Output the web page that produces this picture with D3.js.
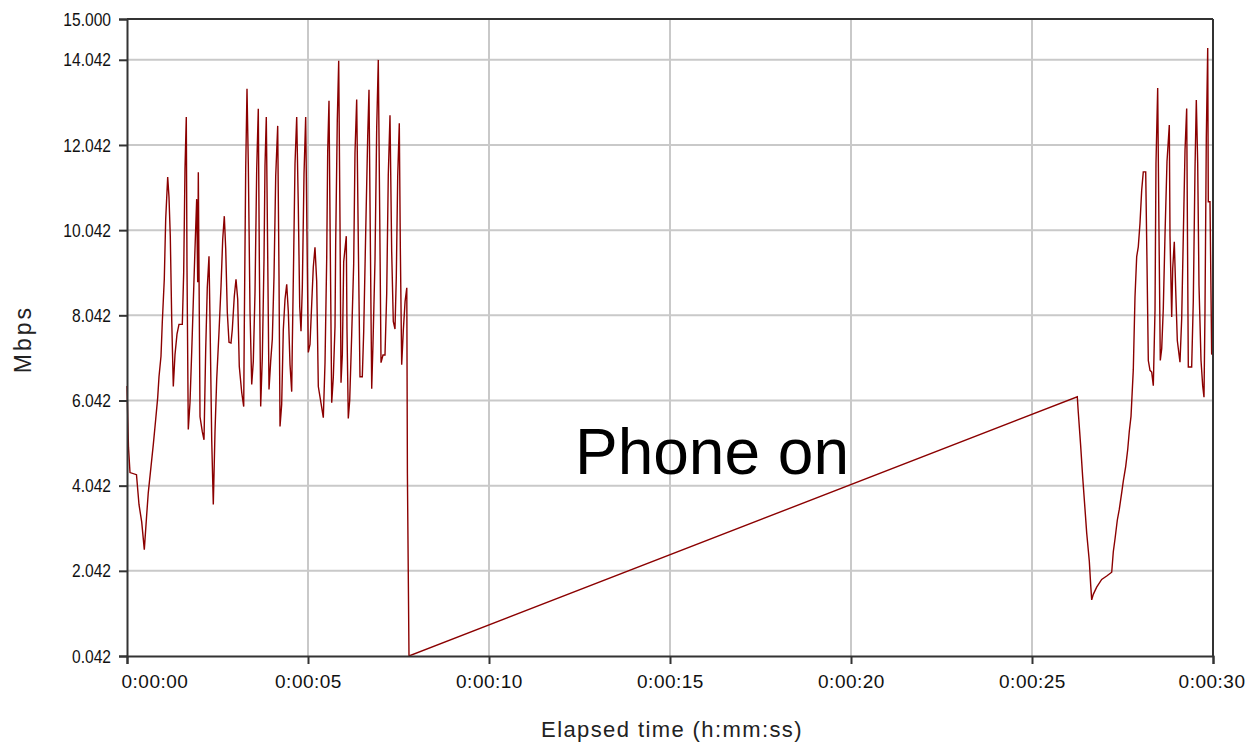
<!DOCTYPE html>
<html>
<head>
<meta charset="utf-8">
<script src="https://cdn.jsdelivr.net/npm/d3@7/dist/d3.min.js"></script>
<style>
  html, body { margin: 0; padding: 0; background: #ffffff; }
  svg { display: block; }
  .tick text { font-family: "Liberation Sans", Arial, sans-serif; fill: #111; }
</style>
</head>
<body>
<svg id="chart" width="1247" height="746"></svg>
<script>
// ---- data (seconds, Mbps) ----
const times = [
  0.000,0.014,0.041,0.083,0.262,0.331,0.406,0.478,0.544,0.588,0.663,0.727,0.793,0.848,0.884,0.939,0.975,
  1.030,1.069,1.124,1.160,1.196,1.235,1.279,1.326,1.381,1.436,1.528,1.566,1.602,1.638,1.657,1.693,1.740,
  1.787,1.831,1.878,1.925,1.953,1.970,2.017,2.080,2.127,2.174,2.218,2.265,2.293,2.340,2.384,2.431,2.478,
  2.541,2.597,2.644,2.688,2.727,2.771,2.818,2.873,2.909,2.964,3.011,3.058,3.102,3.169,3.224,3.240,3.279,
  3.315,3.351,3.398,3.445,3.489,3.536,3.583,3.627,3.655,3.693,3.738,3.785,3.812,3.848,3.887,3.923,3.969,
  4.014,4.061,4.108,4.163,4.199,4.227,4.273,4.318,4.365,4.412,4.456,4.503,4.550,4.566,4.605,4.641,4.688,
  4.732,4.771,4.807,4.843,4.890,4.936,4.972,5.008,5.055,5.102,5.146,5.193,5.240,5.285,5.378,5.423,5.470,
  5.517,5.544,5.580,5.616,5.655,5.699,5.746,5.765,5.809,5.848,5.884,5.912,5.948,5.986,6.058,6.077,6.113,
  6.152,6.207,6.262,6.298,6.345,6.389,6.436,6.500,6.539,6.594,6.649,6.685,6.721,6.760,6.796,6.851,6.898,
  6.942,6.981,7.017,7.072,7.127,7.174,7.218,7.265,7.312,7.356,7.403,7.439,7.478,7.522,7.550,7.588,7.635,
  7.682,7.729,7.746,7.790,
  26.251,26.279,26.345,26.401,26.464,26.511,26.583,26.622,26.649,26.693,26.787,26.925,27.064,27.202,
  27.246,27.293,27.356,27.412,27.478,27.522,27.588,27.644,27.688,27.735,27.798,27.845,27.892,27.936,
  27.983,28.030,28.074,28.141,28.177,28.213,28.260,28.306,28.351,28.398,28.425,28.472,28.508,28.544,
  28.583,28.627,28.674,28.729,28.793,28.812,28.859,28.887,28.931,28.970,29.014,29.088,29.135,29.180,
  29.227,29.273,29.318,29.411,29.456,29.503,29.539,29.577,29.613,29.669,29.715,29.751,29.779,29.815,
  29.854,29.870,29.917,29.963,30.000
];
const mbps = [
  6.38,5.88,4.94,4.35,4.30,3.60,3.19,2.54,3.36,3.88,4.49,5.01,5.60,6.11,6.60,7.08,7.88,
  8.89,10.30,11.29,10.82,9.90,7.95,6.37,7.12,7.60,7.83,7.83,9.05,11.48,12.70,9.20,5.36,5.99,
  7.17,8.35,9.60,10.77,8.82,11.40,5.66,5.31,5.12,7.24,8.70,9.43,7.95,5.12,3.60,5.31,6.54,
  7.64,8.72,9.83,10.37,9.60,8.11,7.41,7.39,7.71,8.49,8.89,8.42,6.84,6.23,5.90,7.76,11.48,
  13.36,11.60,8.13,6.42,6.96,8.58,11.48,12.89,9.40,5.90,7.05,9.36,11.55,12.70,9.43,6.30,6.96,
  7.48,8.96,11.31,12.49,8.96,5.43,5.95,7.71,8.42,8.77,8.13,6.89,6.25,7.31,9.48,11.60,12.70,
  10.60,8.25,7.67,8.70,11.36,12.70,9.90,7.17,7.36,8.30,9.17,9.64,8.84,6.37,5.88,5.64,6.93,
  9.40,11.88,13.08,9.55,5.99,6.58,7.78,9.76,12.61,14.02,10.23,6.46,7.11,9.30,9.90,7.72,5.62,
  6.04,7.58,9.25,11.86,13.11,9.81,6.60,6.60,7.67,9.99,12.23,13.34,9.90,6.32,7.39,9.34,12.46,
  14.04,10.41,6.93,7.11,7.11,8.55,11.34,12.74,9.53,7.90,7.72,8.93,11.30,12.55,9.67,6.88,7.72,
  8.37,8.69,4.32,0.042,
  6.13,5.76,4.97,4.23,3.49,2.93,2.27,1.70,1.36,1.49,1.66,1.84,1.92,2.01,
  2.49,2.79,3.23,3.49,3.88,4.15,4.49,4.89,5.32,5.67,6.76,8.47,9.42,9.65,
  10.20,10.98,11.41,11.41,9.26,6.98,6.75,6.71,6.39,8.16,11.61,13.38,10.00,6.98,
  7.26,8.20,9.92,11.65,12.51,9.92,8.00,9.14,9.77,8.63,7.45,6.94,7.96,9.92,
  11.92,12.90,6.83,6.83,8.39,11.49,13.10,11.61,8.75,6.98,6.39,6.12,8.16,12.20,
  14.32,10.71,10.71,7.14,7.10
];
const yTicks = [0.042, 2.042, 4.042, 6.042, 8.042, 10.042, 12.042, 14.042, 15.000];
const xTicks = [0, 5, 10, 15, 20, 25, 30];
const xTickLabels = ["0:00:00", "0:00:05", "0:00:10", "0:00:15", "0:00:20", "0:00:25", "0:00:30"];
const annotation = "Phone on";
const annotationAt = [16.16, 4.32]; // seconds, Mbps (text centre / baseline)

// ---- drawing ----
const svg = d3.select("#chart");
const W = 1247, H = 746;
const m = { left: 127, right: 34, top: 19, bottom: 90 };
const x = d3.scaleLinear().domain([0, 30]).range([m.left, W - m.right]);
const y = d3.scaleLinear().domain([0.042, 15]).range([H - m.bottom, m.top]);

svg.append("rect").attr("width", W).attr("height", H).attr("fill", "#fff");

// grid
const grid = svg.append("g");
grid.selectAll("line.gy").data(yTicks.slice(1, -1)).enter().append("line")
  .attr("x1", x(0)).attr("x2", x(30))
  .attr("y1", d => y(d)).attr("y2", d => y(d))
  .attr("stroke", "#c9c9c9").attr("stroke-width", 2);
grid.selectAll("line.gx").data(xTicks.slice(1, -1)).enter().append("line")
  .attr("x1", d => x(d)).attr("x2", d => x(d))
  .attr("y1", y(0.042)).attr("y2", y(15))
  .attr("stroke", "#c9c9c9").attr("stroke-width", 2);

// annotation
svg.append("text")
  .attr("x", x(annotationAt[0])).attr("y", y(annotationAt[1]))
  .attr("text-anchor", "middle")
  .attr("font-family", "'Liberation Sans', Arial, Helvetica, sans-serif")
  .attr("font-size", 64)
  .attr("fill", "#000")
  .text(annotation);

// series
const pts = times.map((t, i) => [t, mbps[i]]);
svg.append("path")
  .datum(pts)
  .attr("fill", "none")
  .attr("stroke", "#8b0000")
  .attr("stroke-width", 1.4)
  .attr("stroke-linejoin", "miter")
  .attr("d", d3.line().x(d => x(d[0])).y(d => y(d[1])));

// frame top/right
svg.append("line").attr("x1", x(0)).attr("x2", x(30)).attr("y1", y(15)).attr("y2", y(15))
  .attr("stroke", "#333").attr("stroke-width", 2);
svg.append("line").attr("x1", x(30)).attr("x2", x(30)).attr("y1", y(15)).attr("y2", y(0.042))
  .attr("stroke", "#333").attr("stroke-width", 2);

// axes
const yAxis = svg.append("g")
  .attr("transform", `translate(${x(0)},0)`)
  .call(d3.axisLeft(y).tickValues(yTicks).tickFormat(d3.format(".3f")).tickSize(8).tickPadding(8));
const xAxis = svg.append("g")
  .attr("transform", `translate(0,${y(0.042)})`)
  .call(d3.axisBottom(x).tickValues(xTicks).tickFormat((d, i) => xTickLabels[i]).tickSize(8).tickPadding(8));

[yAxis, xAxis].forEach(g => {
  g.select(".domain").attr("stroke", "#333").attr("stroke-width", 2);
  g.selectAll(".tick line").attr("stroke", "#333").attr("stroke-width", 2);
  g.selectAll(".tick text").attr("font-size", 19).attr("fill", "#111");
});
// narrow, tall tick digits on the value axis
yAxis.selectAll(".tick text").each(function () {
  const w = this.getComputedTextLength();
  d3.select(this).attr("textLength", (w * 0.82).toFixed(1)).attr("lengthAdjust", "spacingAndGlyphs");
});
xAxis.selectAll(".tick text").attr("letter-spacing", "0.5px").attr("dy", "0.85em");
xAxis.selectAll(".tick text").filter((d, i) => i === 0).attr("text-anchor", "start").attr("dx", -6);
xAxis.selectAll(".tick text").filter((d, i) => i === xTicks.length - 1).attr("text-anchor", "end").attr("dx", 32);

// axis titles
svg.append("text")
  .attr("x", 672).attr("y", 737)
  .attr("text-anchor", "middle")
  .attr("font-family", "'Liberation Sans', Arial, sans-serif")
  .attr("font-size", 22).attr("letter-spacing", "1.4px").attr("fill", "#222")
  .text("Elapsed time (h:mm:ss)");
svg.append("text")
  .attr("transform", "translate(31,339) rotate(-90)")
  .attr("text-anchor", "middle")
  .attr("font-family", "'Liberation Sans', Arial, sans-serif")
  .attr("font-size", 23).attr("letter-spacing", "3px").attr("fill", "#222")
  .text("Mbps");
</script>
</body>
</html>
